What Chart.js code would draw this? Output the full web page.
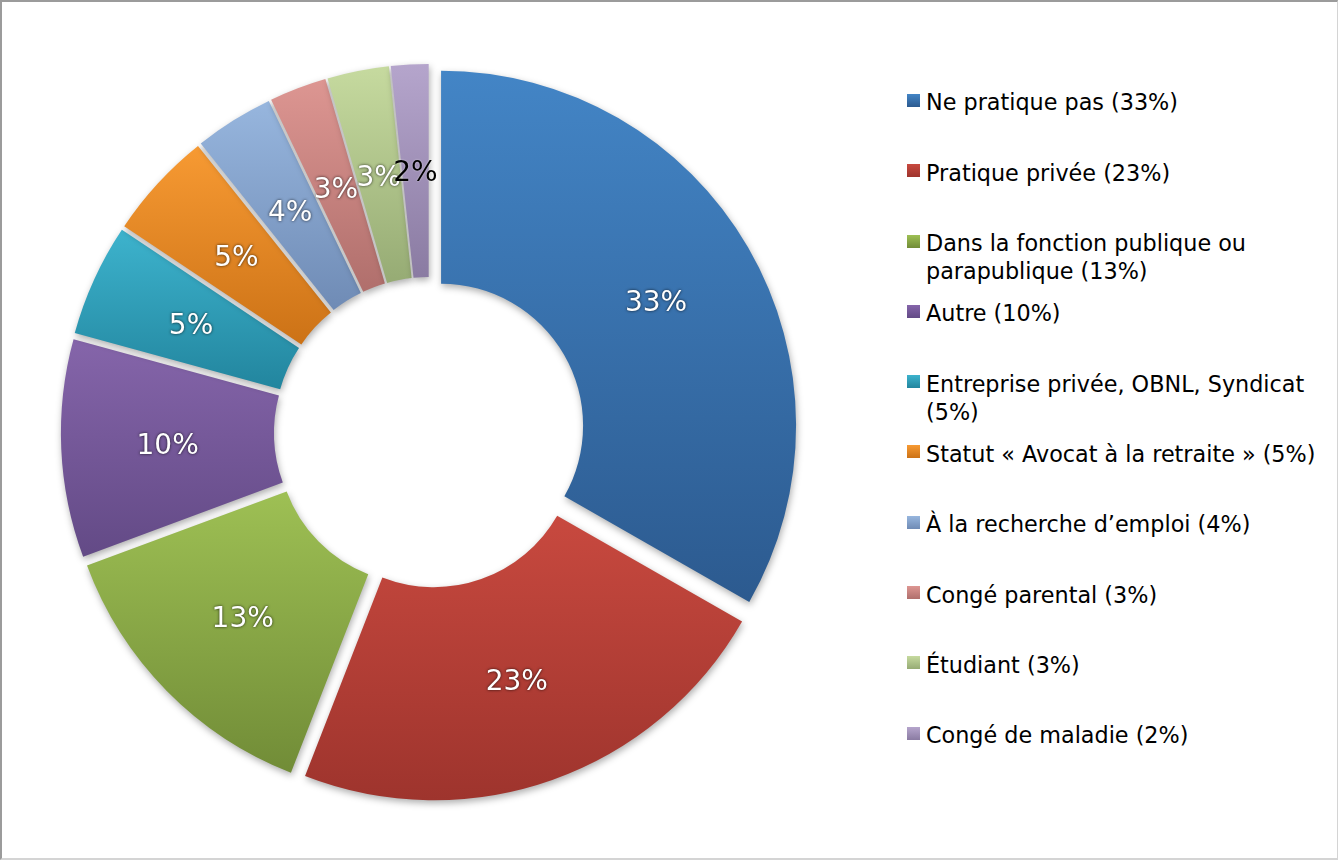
<!DOCTYPE html>
<html>
<head>
<meta charset="utf-8">
<script src="https://cdn.jsdelivr.net/npm/chart.js@4.4.1/dist/chart.umd.min.js"></script>
<style>
  html, body { margin: 0; padding: 0; background: #fff; }
  #frame {
    position: absolute; left: 0; top: 0; width: 1338px; height: 860px; box-sizing: border-box;
    border-top: 2px solid #9b9b9b; border-left: 2px solid #9b9b9b;
    border-right: 1px solid #d4d4d4; border-bottom: 2px solid #d4d4d4;
  }
  #chart { position: absolute; left: 0; top: 0; }
  #legend { position: absolute; left: 907px; top: 0; font-family: "DejaVu Sans", sans-serif; font-size: 22.3px; color: #000; }
  .item { position: absolute; left: 0; width: 420px; }
  .box { position: absolute; left: 0; top: 5.6px; width: 13px; height: 13px; }
  .txt { position: absolute; left: 19px; top: 0; width: 398px; line-height: 28px; }
</style>
</head>
<body>
<div id="frame"></div>
<canvas id="chart" width="860" height="860"></canvas>
<div id="legend"></div>
<script>
// Catégories et parts (en %)
const categories = [
  'Ne pratique pas',
  'Pratique privée',
  'Dans la fonction publique ou parapublique',
  'Autre',
  'Entreprise privée, OBNL, Syndicat',
  'Statut « Avocat à la retraite »',
  'À la recherche d’emploi',
  'Congé parental',
  'Étudiant',
  'Congé de maladie'
];
const shares = [33.2, 22.6, 13.4, 9.9, 5.1, 4.9, 3.6, 2.6, 2.8, 1.7];

// Dégradés des tranches (haut -> bas)
const topColors = ['#4385c6', '#c8493f', '#9ec054', '#8565aa', '#3db3cd', '#f79a33', '#97b6de', '#dd9692', '#c6da9f', '#b5a5cc'];
const bottomColors = ['#2c5a8f', '#9e342d', '#718c37', '#634a86', '#22859e', '#cc7216', '#6f8bb5', '#b06f6c', '#96ab74', '#8a7ba2'];

const explode = 13.5; // décalage des tranches

const sliceLook = {
  id: 'sliceLook',
  afterDatasetUpdate(chart, args) {
    args.meta.data.forEach(arc => {
      const mid = (arc.startAngle + arc.endAngle) / 2;
      arc.x += Math.cos(mid) * explode;
      arc.y += Math.sin(mid) * explode;
    });
  },
  beforeDatasetsDraw(chart) {
    const ctx = chart.ctx;
    chart.getDatasetMeta(0).data.forEach((arc, i) => {
      let top = Infinity, bottom = -Infinity;
      for (let k = 0; k <= 60; k++) {
        const a = arc.startAngle + (arc.endAngle - arc.startAngle) * k / 60;
        [arc.innerRadius, arc.outerRadius].forEach(r => {
          const y = arc.y + Math.sin(a) * r;
          top = Math.min(top, y);
          bottom = Math.max(bottom, y);
        });
      }
      const g = ctx.createLinearGradient(0, top, 0, bottom);
      g.addColorStop(0, topColors[i]);
      g.addColorStop(1, bottomColors[i]);
      arc.options.backgroundColor = g;
    });
    ctx.save();
    ctx.shadowColor = 'rgba(0,0,0,0.32)';
    ctx.shadowBlur = 7;
    ctx.shadowOffsetX = 1;
    ctx.shadowOffsetY = 3;
  },
  afterDatasetsDraw(chart) {
    const ctx = chart.ctx;
    ctx.restore();
    const arcs = chart.getDatasetMeta(0).data;
    ctx.save();
    ctx.font = '28px "DejaVu Sans", sans-serif';
    ctx.textAlign = 'center';
    ctx.textBaseline = 'middle';
    arcs.forEach((arc, i) => {
      const p = arc.getCenterPoint();
      const text = Math.round(shares[i]) + '%';
      if (i === arcs.length - 1) {
        ctx.shadowColor = 'rgba(255,255,255,0.6)';
        ctx.shadowBlur = 2;
        ctx.fillStyle = '#000';
      } else {
        ctx.shadowColor = 'rgba(0,0,0,0.8)';
        ctx.shadowBlur = 3;
        ctx.fillStyle = '#fff';
      }
      ctx.fillText(text, p.x, p.y + 3);
    });
    ctx.restore();
  }
};

new Chart(document.getElementById('chart'), {
  type: 'doughnut',
  data: {
    labels: categories,
    datasets: [{
      data: shares,
      backgroundColor: topColors,
      borderWidth: 0
    }]
  },
  options: {
    responsive: false,
    animation: false,
    events: [],
    radius: 355,
    cutout: '40%',
    layout: { padding: { left: 0, right: 1.2, top: 5, bottom: 0 } },
    plugins: { legend: { display: false }, tooltip: { enabled: false } }
  },
  plugins: [sliceLook]
});

// Légende à droite
const legend = document.getElementById('legend');
categories.forEach((name, i) => {
  const item = document.createElement('div');
  item.className = 'item';
  item.style.top = (88.4 + i * 70.3) + 'px';
  const box = document.createElement('div');
  box.className = 'box';
  box.style.background = 'linear-gradient(' + topColors[i] + ',' + bottomColors[i] + ')';
  const txt = document.createElement('div');
  txt.className = 'txt';
  txt.textContent = name + ' (' + Math.round(shares[i]) + '%)';
  item.appendChild(box);
  item.appendChild(txt);
  legend.appendChild(item);
});
</script>
</body>
</html>
